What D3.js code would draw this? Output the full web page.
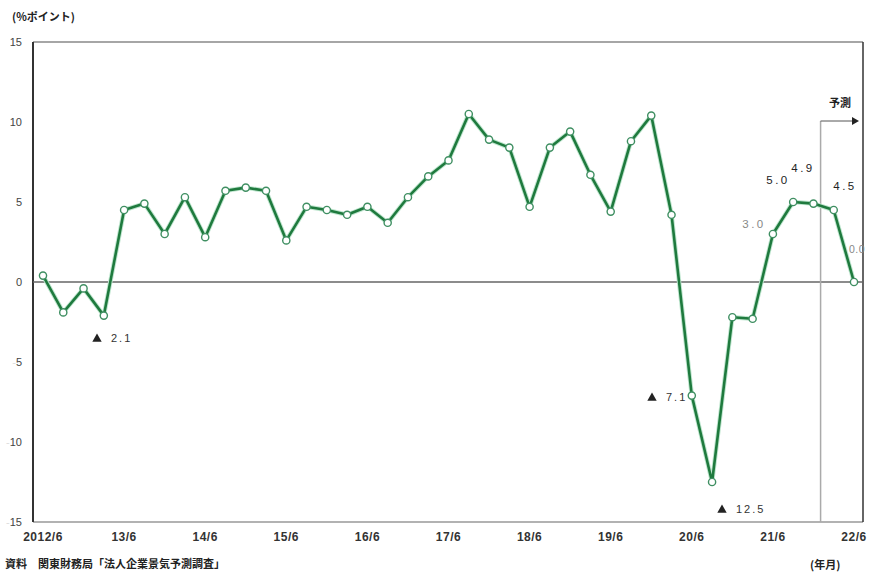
<!DOCTYPE html>
<html><head><meta charset="utf-8">
<script src="https://cdn.jsdelivr.net/npm/d3@7"></script>
<style>
body{margin:0;background:#fff;}
svg{display:block;}
text{font-family:"Liberation Sans","DejaVu Sans",sans-serif;}
.jp{font-family:"Noto Sans CJK JP",sans-serif;font-weight:700;}
</style></head>
<body>
<svg id="c" width="869" height="573"></svg>
<script>
const periods = ["2012/6","2012/9","2012/12","2013/3","2013/6","2013/9","2013/12","2014/3","2014/6","2014/9","2014/12","2015/3","2015/6","2015/9","2015/12","2016/3","2016/6","2016/9","2016/12","2017/3","2017/6","2017/9","2017/12","2018/3","2018/6","2018/9","2018/12","2019/3","2019/6","2019/9","2019/12","2020/3","2020/6","2020/9","2020/12","2021/3","2021/6","2021/9","2021/12","2022/3","2022/6"];
const bsi = [0.4,-1.9,-0.4,-2.1,4.5,4.9,3.0,5.3,2.8,5.7,5.9,5.7,2.6,4.7,4.5,4.2,4.7,3.7,5.3,6.6,7.6,10.5,8.9,8.4,4.7,8.4,9.4,6.7,4.4,8.8,10.4,4.2,-7.1,-12.5,-2.2,-2.3,3.0,5.0,4.9,4.5,0.0];
const xTickLabels = ["2012/6","13/6","14/6","15/6","16/6","17/6","18/6","19/6","20/6","21/6","22/6"];
const yTicks = [15,10,5,0,-5,-10,-15];
const negLabels = [{i:3,v:-2.1,t:"2.1"},{i:32,v:-7.1,t:"7.1"},{i:33,v:-12.5,t:"12.5"}];
const posLabels = [{i:36,t:"3.0",c:"#888"},{i:37,t:"5.0",c:"#222"},{i:38,t:"4.9",c:"#222"},{i:39,t:"4.5",c:"#222"},{i:40,t:"0.0",c:"#888"}];
const forecastStart = 38.5;

const svg = d3.select("#c");
const L=33,R=863,T=42,B=522;
const x = d3.scaleLinear().domain([0,periods.length-1]).range([43,854]);
const y = d3.scaleLinear().domain([-15,15]).range([B,T]);

// frame
svg.append("line").attr("x1",L).attr("x2",R).attr("y1",T).attr("y2",T).attr("stroke","#888").attr("stroke-width",1.5);
svg.append("line").attr("x1",L).attr("x2",R).attr("y1",B).attr("y2",B).attr("stroke","#999").attr("stroke-width",1.5);
svg.append("line").attr("x1",L).attr("x2",L).attr("y1",T).attr("y2",B).attr("stroke","#333").attr("stroke-width",2);
svg.append("line").attr("x1",R).attr("x2",R).attr("y1",T).attr("y2",B).attr("stroke","#333").attr("stroke-width",1.5);
// zero line
svg.append("line").attr("x1",L).attr("x2",R).attr("y1",y(0)).attr("y2",y(0)).attr("stroke","#666").attr("stroke-width",1.5);

// y ticks labels
const yl = svg.append("g");
yTicks.forEach(v=>{
  const t = yl.append("text").attr("x",22).attr("y",y(v)).attr("dy","0.35em").attr("text-anchor","end")
    .attr("font-size",11).attr("fill","#444");
  if(v<0){ t.append("tspan").attr("fill","#ddd").text("-"); }
  t.append("tspan").text(Math.abs(v));
});

// x tick labels
xTickLabels.forEach((lab,k)=>{
  svg.append("text").attr("x",x(k*4)).attr("y",541).attr("text-anchor","middle")
    .attr("font-size",12).attr("fill","#333").attr("font-family","DejaVu Sans Condensed")
    .attr("font-weight","bold").attr("letter-spacing",0.5).text(lab);
});

// forecast marker
const fx = x(forecastStart)-3;
svg.append("line").attr("x1",fx).attr("x2",fx).attr("y1",121).attr("y2",B).attr("stroke","#aaa").attr("stroke-width",1.5);
svg.append("line").attr("x1",fx).attr("x2",852).attr("y1",121).attr("y2",121).attr("stroke","#555").attr("stroke-width",1);
svg.append("path").attr("d",`M852,117 L859,121 L852,125 Z`).attr("fill","#222");
svg.append("text").attr("class","jp").attr("x",840).attr("y",107).attr("text-anchor","middle").attr("font-size",11).attr("fill","#222").text("予測");

// line
const line = d3.line().x((d,i)=>x(i)).y(d=>y(d));
svg.append("path").datum(bsi).attr("d",line).attr("fill","none").attr("stroke","#bfe6cf").attr("stroke-width",4.5).attr("stroke-linejoin","round");
svg.append("path").datum(bsi).attr("d",line).attr("fill","none").attr("stroke","#1f7a3e").attr("stroke-width",2.6).attr("stroke-linejoin","round");
svg.append("g").selectAll("circle").data(bsi).join("circle")
  .attr("cx",(d,i)=>x(i)).attr("cy",d=>y(d)).attr("r",3.6)
  .attr("fill","#fff").attr("stroke","#3f8f62").attr("stroke-width",1.4);

// negative annotations
const negPos = {3:[97,338],32:[652,397],33:[722,509]};
negLabels.forEach(d=>{
  const [tx,ty]=negPos[d.i];
  svg.append("path").attr("d",d3.symbol(d3.symbolTriangle,38)()).attr("transform",`translate(${tx},${ty+1})`).attr("fill","#222");
  svg.append("text").attr("x",tx+14).attr("y",ty).attr("dy","0.35em").attr("font-size",11).attr("fill","#333")
    .attr("letter-spacing",2).text(d.t);
});
// positive annotations
const posPos = {36:[754,224],37:[778,180],38:[803,168],39:[845,186],40:[857,249]};
posLabels.forEach(d=>{
  const [tx,ty]=posPos[d.i];
  svg.append("text").attr("x",tx).attr("y",ty).attr("dy","0.35em").attr("text-anchor","middle").attr("font-size",d.i===40?10.5:11.5)
    .attr("fill",d.c).attr("letter-spacing",d.i===40?0.5:2.5).text(d.t);
});

// captions
svg.append("text").attr("class","jp").attr("x",12).attr("y",21).attr("font-size",11).attr("fill","#222").text("(%ポイント)");
svg.append("text").attr("class","jp").attr("x",5).attr("y",568).attr("font-size",11).attr("fill","#222").text("資料　関東財務局「法人企業景気予測調査」");
svg.append("text").attr("class","jp").attr("x",810).attr("y",569).attr("font-size",11).attr("fill","#222").text("(年月)");
</script>
</body></html>
